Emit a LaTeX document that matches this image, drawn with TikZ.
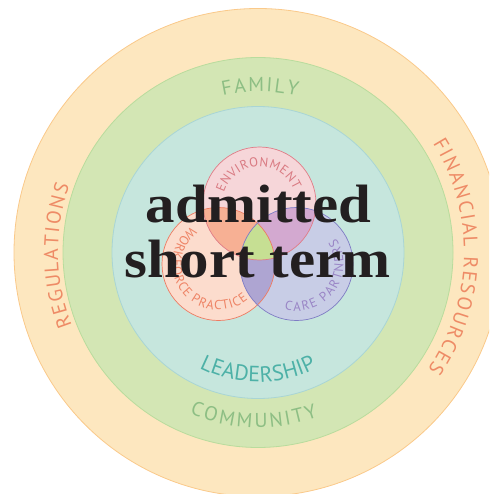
\documentclass[tikz,border=0pt]{standalone}
\usepackage{fontspec}
\usetikzlibrary{decorations.text}
\newfontfamily\lblfont{PT Sans}
\newfontfamily\bigfont{Liberation Serif}
\definecolor{ringO}{HTML}{FDE7BF}
\definecolor{ringOs}{HTML}{FAC98A}
\definecolor{ringG}{HTML}{D3E6B4}
\definecolor{ringGs}{HTML}{B9DC9D}
\definecolor{ringT}{HTML}{C6E6DD}
\definecolor{ringTs}{HTML}{A9D5D5}
\definecolor{envF}{HTML}{F6D6D9}
\definecolor{envS}{HTML}{E07B86}
\definecolor{wrkF}{HTML}{FCDCCD}
\definecolor{wrkS}{HTML}{EE7B62}
\definecolor{carF}{HTML}{C8CDE6}
\definecolor{carS}{HTML}{7F7CC4}
\definecolor{ewF}{HTML}{F7B094}
\definecolor{ecF}{HTML}{D3A9D0}
\definecolor{wcF}{HTML}{AEA5D2}
\definecolor{allF}{HTML}{C6DF93}
\definecolor{famT}{HTML}{8DBE84}
\definecolor{leadT}{HTML}{4DB1A7}
\definecolor{regT}{HTML}{EE8B66}
\definecolor{envT}{HTML}{D97A82}
\definecolor{wrkT}{HTML}{EE8466}
\definecolor{carT}{HTML}{9A86C6}
\definecolor{inkT}{HTML}{231F20}
\newcommand\lblA{\lblfont\fontsize{20}{20}\selectfont}
\newcommand\lblB{\lblfont\fontsize{22}{22}\selectfont}
\newcommand\lblC{\lblfont\fontsize{13}{13}\selectfont}
\tikzset{
  ringline/.style={line width=0.8pt},
  vennline/.style={line width=0.7pt},
  arclabel/.style args={#1/#2/#3}{decorate, decoration={text along path, text align=fit to path,
     text format delimiters={[}{]}, text={[#3]#1}, text color=#2}},
  bigtext/.style={anchor=base, text=inkT, font=\bigfont\bfseries\fontsize{54}{54}\selectfont, inner sep=0pt}
}
\begin{document}
\begin{tikzpicture}[x=1pt,y=1pt]
\useasboundingbox (0,0) rectangle (489,-494);
\clip (0,0) rectangle (489,-494);
\coordinate (C) at (258,-252.5);
\coordinate (E) at (259.5,-203.5);
\coordinate (W) at (218.5,-264);
\coordinate (P) at (296.5,-264);
% rings
\draw[ringline, draw=ringOs, fill=ringO] (C) circle[radius=244];
\draw[ringline, draw=ringGs, fill=ringG] (C) circle[radius=195];
\draw[ringline, draw=ringTs, fill=ringT] (C) circle[radius=146];
% venn fills
\fill[envF] (E) circle[radius=56.5];
\fill[wrkF] (W) circle[radius=56.5];
\fill[carF] (P) circle[radius=56.5];
\begin{scope}
  \clip (E) circle[radius=56.5];
  \fill[ewF] (W) circle[radius=56.5];
  \fill[ecF] (P) circle[radius=56.5];
\end{scope}
\begin{scope}
  \clip (W) circle[radius=56.5];
  \fill[wcF] (P) circle[radius=56.5];
  \clip (P) circle[radius=56.5];
  \fill[allF] (E) circle[radius=56.5];
\end{scope}
\draw[vennline, draw=envS] (E) circle[radius=56.5];
\draw[vennline, draw=wrkS] (W) circle[radius=56.5];
\draw[vennline, draw=carS] (P) circle[radius=56.5];
% ring labels
\path[arclabel={FAMILY/famT/\lblA}]
  (C) ++(102.6:161) arc[start angle=102.6, end angle=76, radius=161];
\path[arclabel={COMMUNITY/famT/\lblA}]
  (C) ++(247:175) arc[start angle=247, end angle=290, radius=175];
\path[arclabel={LEADERSHIP/leadT/\lblB}]
  (C) ++(243:129.5) arc[start angle=243, end angle=297, radius=129.5];
\path[arclabel={REGULATIONS/regT/\lblA}]
  (C) ++(201.5:200) arc[start angle=201.5, end angle=160.5, radius=200];
\path[arclabel={FINANCIAL RESOURCES/regT/\lblA}]
  (C) ++(32:206) arc[start angle=32, end angle=-34.5, radius=206];
% venn labels
\path[arclabel={ENVIRONMENT/envT/\lblC}]
  (E) ++(163:37) arc[start angle=163, end angle=22, radius=37];
\path[arclabel={WORKFORCE PRACTICE/wrkT/\lblC}]
  (W) ++(126:46) arc[start angle=126, end angle=310, radius=46];
\path[arclabel={CARE PARTNERS/carT/\lblC}]
  (P) ++(255:47) arc[start angle=255, end angle=393, radius=47];
% title
\node[bigtext] (t1) at (258.5,-222) {\scalebox{1.09}[1]{admitted}};
\node[bigtext] (t2) at (257.5,-277) {\scalebox{1.09}[1]{short term}};
\end{tikzpicture}
\end{document}
